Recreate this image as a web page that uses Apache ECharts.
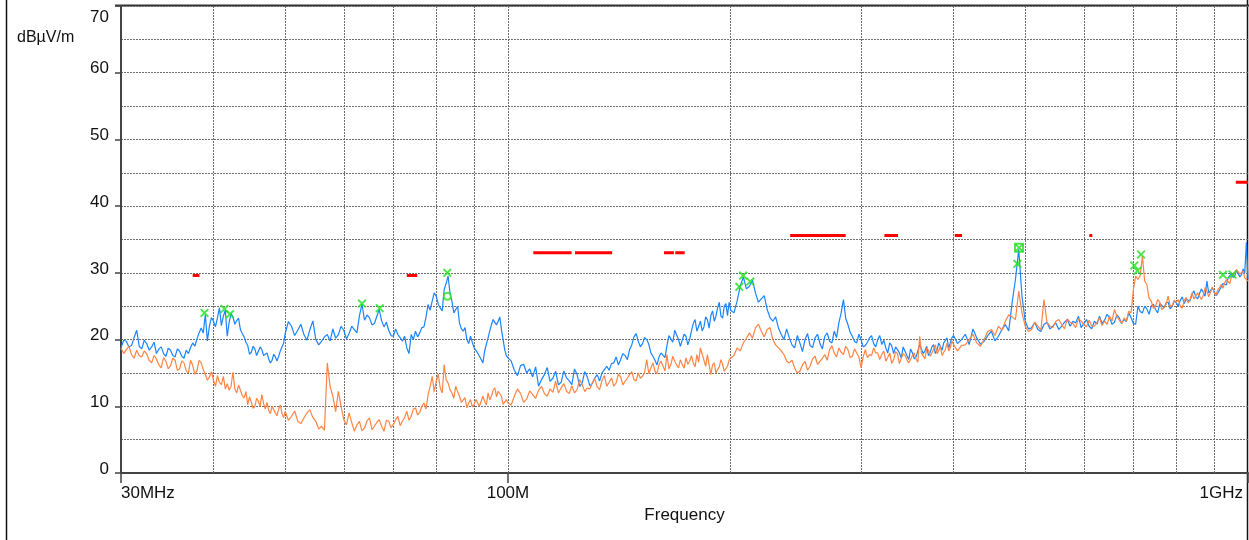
<!DOCTYPE html>
<html>
<head>
<meta charset="utf-8">
<title>Radiated emission scan</title>
<script src="https://cdn.jsdelivr.net/npm/echarts@6/dist/echarts.min.js"></script>
<style>
  html, body { margin: 0; padding: 0; background: #fff; }
  #main { width: 1249px; height: 540px; }
</style>
</head>
<body>
<div id="main"></div>
<script>
// sweep frequencies in MHz, shared by both traces
var freqs = [
  30,30.5,31,31.5,32,32.5,33,33.5,34,34.5,35,35.5,36,36.5,37,37.5,38,38.5,39,39.5,
  40,40.5,41,41.5,42,42.5,43,43.5,44,44.5,45,45.5,46,46.5,47,47.5,48,48.5,49,49.5,50,
  51,52,53,54,55,56,57,58,59,60,61,62,63,64,65,66,67,68,69,70,
  71,72,73,74,75,76,77,78,79,80,81,82,83,84,85,86,87,88,89,90,
  91,92,93,94,95,96,97,98,99,100,
  102,104,106,108,110,112,114,116,118,120,122,124,126,128,130,132,134,136,138,140,
  142,144,146,148,150,152,154,156,158,160,162,164,166,168,170,172,174,176,178,180,
  182,184,186,188,190,192,194,196,198,200,
  204,208,212,216,220,224,228,232,236,240,244,248,252,256,260,264,268,272,276,280,
  284,288,292,296,300,304,308,312,316,320,324,328,332,336,340,344,348,352,356,360,
  364,368,372,376,380,384,388,392,396,400,
  410,420,430,440,450,460,470,480,490,500,510,520,530,540,550,560,570,580,590,600,
  610,620,630,640,650,660,670,680,690,700,710,720,730,740,750,760,770,780,790,800,
  810,820,830,840,850,860,870,880,890,900,910,920,930,940,950,960,970,980,990,1000
];

// blue trace, dBuV/m
var blueTrace = [
  18.75,19.75,19.1,21.4,18.6,19.4,18.9,17.9,18.9,17.5,18.4,17.4,18.25,17.2,17.9,19.5,20.1,21.75,23.75,22.0,
  22.75,23.25,22.1,24.4,22.6,23.4,22.85,21.5,20.4,19.1,18.1,18.6,17.75,18.5,17.5,17.1,16.9,17.4,17.5,18.9,20.9,
  22.0,21.4,20.75,21.5,20.0,19.75,20.75,21.6,20.75,21.4,20.9,21.5,23.6,22.9,23.25,22.4,24.5,21.9,21.4,20.5,
  20.75,19.75,18.75,20.75,21.25,21.0,21.9,25.25,25.75,26.5,24.75,27.5,29.5,25.75,24.25,22.5,21.25,20.0,20.5,18.75,
  18.0,17.0,18.25,20.25,22.25,23.25,22.75,21.5,18.5,17.25,
  15.4,16.1,15.0,14.4,13.0,14.75,13.75,15.25,13.6,14.25,13.25,14.75,13.5,14.4,13.4,14.75,15.0,16.0,16.4,17.4,
  17.0,17.6,18.5,20.4,19.75,19.4,20.0,18.0,16.9,17.4,17.75,19.1,20.1,21.4,20.0,19.25,20.5,20.0,22.4,21.25,
  22.75,21.9,23.0,23.6,22.75,24.75,23.5,25.0,23.6,24.4,
  25.75,29.4,28.0,27.0,26.1,24.5,22.75,21.75,20.0,20.25,18.75,19.5,20.0,19.1,20.25,19.4,20.5,19.75,21.25,22.5,
  26.0,22.25,20.5,19.5,20.0,19.1,20.25,19.4,20.0,19.25,18.75,19.5,17.9,18.5,17.25,18.25,17.0,18.0,17.4,19.25,
  17.9,19.0,18.1,19.25,18.4,19.0,19.5,20.25,19.5,20.6,
  20.0,19.25,20.25,19.75,21.25,20.5,22.25,25.5,33.5,22.75,21.75,21.5,22.25,21.6,22.5,22.0,23.0,22.75,23.5,22.4,
  22.0,22.75,23.5,22.9,23.25,22.6,23.25,23.0,24.0,22.4,25.0,24.0,24.6,25.0,24.5,25.4,24.75,25.6,25.0,25.5,
  25.9,25.4,26.25,26.75,26.4,26.9,27.1,28.75,26.75,27.25,26.9,27.9,28.6,29.25,30.0,29.6,30.25,29.75,30.0,29.0
];

// orange trace, dBuV/m
var orangeTrace = [
  18.75,18.5,17.75,18.4,17.4,17.85,16.5,17.1,15.75,16.75,16.1,16.9,15.6,16.5,15.0,16.1,15.35,16.5,14.75,14.4,
  13.9,14.6,13.25,12.6,12.4,15.1,12.0,12.4,11.25,10.25,10.6,10.0,10.75,11.75,9.6,9.4,10.0,9.0,9.6,8.9,9.25,
  8.5,7.75,8.25,9.5,7.75,7.0,16.5,11.5,12.25,8.0,9.0,6.25,7.75,6.75,8.25,7.0,8.0,6.25,7.75,7.25,
  8.5,7.75,9.25,8.5,9.75,9.1,10.5,11.75,14.5,13.75,12.75,16.25,13.5,12.0,13.0,11.5,10.5,9.75,11.0,10.25,
  11.25,10.25,10.75,12.0,11.5,12.75,12.25,11.5,10.25,10.5,
  11.5,11.9,11.1,11.75,12.4,11.9,12.6,13.75,12.75,12.25,13.1,12.5,13.25,12.75,13.5,12.9,13.9,13.0,14.25,13.5,
  14.4,13.75,14.75,14.0,15.0,14.5,17.0,15.75,15.25,16.25,16.0,17.75,16.25,16.75,15.75,16.25,17.25,16.75,16.5,17.75,
  18.75,16.9,17.75,14.75,16.5,15.5,17.0,15.25,16.0,17.25,
  18.75,19.5,21.0,21.75,21.25,21.5,20.0,18.75,17.75,16.5,15.75,15.25,16.75,16.0,17.5,16.75,17.75,18.5,18.0,18.75,
  17.75,18.5,17.5,18.0,15.75,18.5,17.75,18.75,18.0,17.75,16.75,18.0,17.0,17.9,16.6,17.6,16.5,17.6,17.1,20.5,
  17.75,18.75,17.5,18.5,17.9,19.0,18.1,19.5,18.75,19.25,
  19.1,20.0,19.5,20.0,21.5,22.0,22.75,23.4,27.25,22.0,21.5,22.0,26.0,22.0,22.75,22.25,23.1,22.4,23.1,22.25,
  22.9,22.0,23.25,22.75,23.5,24.5,22.9,23.25,24.25,27.5,29.0,32.5,28.25,25.75,25.0,25.6,24.75,26.5,25.1,25.6,
  25.0,25.9,25.5,27.0,26.25,27.25,26.6,27.25,26.5,27.0,27.4,28.25,28.5,29.0,29.5,30.0,30.6,29.6,29.25,28.75
];

// in-between sweep points (read between the ones above)
var freqsMid = [
  30.25,30.75,31.25,31.75,32.25,32.75,33.25,33.75,34.25,34.75,35.25,35.75,36.25,36.75,37.25,37.75,38.25,38.75,39.25,39.75,
  40.25,40.75,41.25,41.75,42.25,42.75,43.25,43.75,44.25,44.75,45.25,45.75,46.25,46.75,47.25,47.75,48.25,48.75,49.25,49.75,
  50.5,51.5,52.5,53.5,54.5,55.5,56.5,57.5,58.5,59.5,60.5,61.5,62.5,63.5,64.5,65.5,66.5,67.5,68.5,69.5,
  70.5,71.5,72.5,73.5,74.5,75.5,76.5,77.5,78.5,79.5,80.5,81.5,82.5,83.5,84.5,85.5,86.5,87.5,88.5,89.5,
  90.5,91.5,92.5,93.5,94.5,95.5,96.5,97.5,98.5,99.5,
  101,103,105,107,109,111,113,115,117,119,121,123,125,127,129,131,133,135,137,139,
  141,143,145,147,149,151,153,155,157,159,161,163,165,167,169,171,173,175,177,179,
  181,183,185,187,189,191,193,195,197,199,
  202,206,210,214,218,222,226,230,234,238,242,246,250,254,258,262,266,270,274,278,
  282,286,290,294,298,302,306,310,314,318,322,326,330,334,338,342,346,350,354,358,
  362,366,370,374,378,382,386,390,394,398,
  405,415,425,435,445,455,465,475,485,495,505,515,525,535,545,555,565,575,585,595,
  605,615,625,635,645,655,665,675,685,695,705,715,725,735,745,755,765,775,785,795,
  805,815,825,835,845,855,865,875,885,895,905,915,925,935,945,955,965,975,985,995
];

var blueMid = [
  19.9,18.9,20.3,19.0,19.9,18.4,19.6,18.6,17.9,18.7,17.6,18.6,17.5,18.4,18.8,19.0,21.0,21.0,19.8,23.3,
  21.9,24.8,23.5,20.5,23.9,22.3,23.2,20.9,19.6,17.8,19.0,17.6,18.9,17.6,18.0,16.5,17.8,16.8,18.3,19.4,
  22.7,20.6,22.3,19.9,22.8,19.2,20.4,19.8,20.2,22.0,20.1,22.0,21.0,25.3,23.7,22.2,23.5,22.8,22.6,20.6,
  21.6,20.3,20.5,17.9,20.0,20.4,21.8,23.4,24.4,27.0,25.3,24.3,28.4,27.0,24.0,25.0,21.6,21.8,19.4,19.6,
  18.6,17.5,16.5,19.3,21.3,23.0,22.2,23.4,20.0,17.6,
  16.8,14.6,16.3,15.6,15.9,14.0,15.8,14.2,13.2,15.3,13.8,15.6,13.0,15.2,13.1,14.2,13.8,15.5,15.4,16.5,
  16.2,17.9,17.0,19.2,20.9,18.9,20.3,19.3,17.5,16.2,18.0,17.3,20.6,19.6,21.3,19.0,20.8,19.2,21.3,23.0,
  22.0,21.3,23.4,21.7,24.3,23.5,25.6,23.2,25.4,25.6,
  24.0,28.0,27.6,28.9,25.6,26.6,23.3,23.4,20.8,21.6,19.2,20.6,18.2,20.9,18.8,20.8,18.6,21.0,19.5,20.3,
  24.0,23.2,21.1,19.7,20.8,18.9,19.6,20.6,18.9,20.6,19.9,18.0,19.1,18.9,18.0,18.9,17.6,18.6,17.1,18.3,
  18.6,18.3,17.6,18.9,17.9,19.5,18.4,19.4,18.7,20.3,
  19.4,20.8,21.6,19.3,20.6,19.8,21.5,21.3,29.0,26.5,21.6,22.6,21.2,22.6,22.0,21.5,22.6,22.0,22.5,21.8,
  23.0,21.6,22.3,22.4,23.8,22.3,23.7,22.4,22.7,23.3,22.3,24.2,25.0,23.8,25.3,24.0,25.1,25.5,24.6,25.8,
  25.0,26.4,26.0,25.8,27.3,26.1,27.6,26.5,27.0,27.7,26.6,27.4,28.4,28.2,29.6,29.3,30.4,29.4,30.6,34.6
];

var orangeMid = [
  17.9,19.0,17.2,17.6,18.3,16.9,17.6,16.2,17.3,15.6,17.2,15.4,16.8,15.3,16.9,14.8,16.9,15.5,13.9,15.2,
  13.0,13.6,14.5,13.4,13.0,12.6,13.2,11.6,12.2,11.4,9.7,11.2,10.0,10.4,10.6,8.9,9.9,8.6,10.2,8.3,
  7.9,9.3,7.4,9.0,8.3,6.6,6.4,13.0,9.2,10.0,7.2,7.6,7.2,6.3,7.8,6.5,7.6,7.0,7.9,6.8,
  8.0,7.1,8.3,7.9,9.6,8.7,10.0,9.6,13.0,12.2,14.8,12.0,14.0,12.5,11.2,12.2,10.6,11.3,10.5,9.9,
  11.0,10.0,11.5,10.2,11.0,12.4,11.4,12.0,10.3,11.0,
  10.2,12.6,10.6,12.3,11.2,13.0,11.5,12.1,12.0,13.4,11.9,12.0,14.0,12.2,12.6,14.1,12.5,14.6,13.6,13.0,
  14.8,13.2,14.2,15.2,13.8,14.2,15.1,14.9,16.5,14.9,16.8,15.3,15.6,17.5,16.6,17.0,15.7,16.3,17.6,15.9,
  16.6,17.8,16.0,16.2,16.2,15.0,15.9,16.3,15.2,16.9,
  17.6,18.3,20.2,20.2,22.3,20.4,21.8,19.2,18.3,16.8,16.9,15.0,16.2,15.4,17.1,16.3,17.2,16.9,19.1,17.4,
  18.1,19.0,17.3,18.6,17.4,17.4,17.3,17.6,18.0,17.0,18.3,17.3,16.4,18.2,16.4,17.9,17.0,16.4,18.0,16.6,
  18.0,17.1,18.4,17.4,19.2,18.3,17.6,18.5,18.3,19.8,
  18.3,19.2,20.8,19.0,21.2,20.6,21.4,23.7,23.0,24.0,21.2,22.6,21.4,22.6,21.8,23.0,21.6,22.6,21.8,22.8,
  21.9,22.0,22.6,22.1,22.3,22.8,23.5,22.4,22.8,24.0,29.5,29.6,28.8,26.2,24.7,26.0,24.5,25.3,25.0,25.9,
  26.0,24.7,26.3,26.0,26.1,27.0,26.0,27.8,26.4,27.9,26.7,27.8,27.7,29.0,28.4,29.6,30.5,29.8,30.3,29.1
];

// limit line pieces: [start MHz, end MHz, level]
var limitSegments = [
  [37.5, 38.3, 29.6], [73.0, 75.4, 29.6],
  [108.2, 121.9, 33.0], [123.2, 138.3, 33.0], [150.5, 150.8, 33.0], [157.1, 157.4, 33.0],
  [162.5, 167.6, 33.0], [168.3, 173.3, 33.0],
  [240.6, 286, 35.6], [322.6, 336.6, 35.6], [401.6, 410.8, 35.6], [610.4, 616, 35.6],
  [962.7, 1000, 43.6]
];

// peak markers
var peakFreqs  = [38.9, 41.4, 42.1, 63.5, 67.1, 82.8, 205.4, 207.9, 212.5, 488, 490.5, 702, 709, 717, 925, 953];
var peakLevels = [24.0, 24.6, 23.8, 25.4, 24.7, 30.0, 27.9, 29.6, 28.7, 31.35, 33.75, 31.1, 30.3, 32.75, 29.7, 29.75];
var circleMarks = [[82.8, 26.5]];
var squareMarks = [[490.5, 33.75]];

var gridFreqs = [40, 50, 60, 70, 80, 90, 100, 200, 300, 400, 500, 600, 700, 800, 900];
var xTickLabels = { 30: '30MHz', 100: '100M', 1000: '{r|1GHz}' };

function pairs(xs, ys) {
  return xs.map(function (x, i) { return [x, ys[i]]; });
}
function byFreq(a, b) { return a[0] - b[0]; }

var blueData = pairs(freqs, blueTrace).concat(pairs(freqsMid, blueMid)).sort(byFreq);
var orangeData = pairs(freqs, orangeTrace).concat(pairs(freqsMid, orangeMid)).sort(byFreq);

var limitData = [];
limitSegments.forEach(function (s) {
  limitData.push([s[0], s[2]], [s[1], s[2]], [s[1], '-']);
});

var fontName = 'Liberation Sans, Arial, sans-serif';
var axisDark = '#444';
var gridStyle = { color: '#6e6e6e', width: 1, type: [2, 1] };
var crossPath = 'path://M0,1.5L1.5,0L5,3.5L8.5,0L10,1.5L6.5,5L10,8.5L8.5,10L5,6.5L1.5,10L0,8.5L3.5,5Z';
var markGreen = '#1ee01e';

var myChart = echarts.init(document.getElementById('main'));

var option = {
  backgroundColor: '#fff',
  animation: false,
  textStyle: { fontFamily: fontName },
  grid: { left: 121, right: 1, top: 6, bottom: 67, outerBoundsMode: 'none' },
  xAxis: {
    type: 'log',
    logBase: 10,
    min: 30,
    max: 1000,
    name: 'Frequency',
    nameLocation: 'middle',
    nameGap: 31,
    nameTextStyle: { fontSize: 17, color: '#111', fontFamily: fontName },
    axisLine: { show: true, lineStyle: { color: axisDark, width: 2 } },
    axisTick: { show: true, length: 10, lineStyle: { color: axisDark, width: 1.5 } },
    splitLine: { show: false },
    axisLabel: {
      fontSize: 17,
      color: '#111',
      margin: 12,
      fontFamily: fontName,
      showMinLabel: true,
      showMaxLabel: true,
      alignMinLabel: 'left',
      alignMaxLabel: 'right',
      formatter: function (v) { return xTickLabels[Math.round(v)] || ''; },
      rich: { r: { fontSize: 17, color: '#111', padding: [0, 5, 0, 0], fontFamily: fontName } }
    }
  },
  yAxis: {
    type: 'value',
    min: 0,
    max: 70,
    interval: 10,
    axisLine: { show: true, lineStyle: { color: axisDark, width: 2 } },
    axisTick: { show: true, length: 6, lineStyle: { color: axisDark, width: 1.5 } },
    minorTick: { show: false, splitNumber: 2 },
    splitLine: { show: true, lineStyle: gridStyle },
    minorSplitLine: { show: true, lineStyle: gridStyle },
    axisLabel: {
      fontSize: 17,
      color: '#111',
      margin: 12,
      fontFamily: fontName,
      verticalAlign: 'bottom',
      lineHeight: 8,
      formatter: function (v) { return v === 70 ? '' : String(v); }
    }
  },
  graphic: [
    { type: 'line', shape: { x1: 6.5, y1: 0, x2: 6.5, y2: 540 }, style: { stroke: '#111', lineWidth: 1.5 } },
    { type: 'line', shape: { x1: 1247.5, y1: 0, x2: 1247.5, y2: 540 }, style: { stroke: '#111', lineWidth: 1.5 } },
    { type: 'line', shape: { x1: 115, y1: 5.5, x2: 1249, y2: 5.5 }, style: { stroke: '#333', lineWidth: 2 } },
    { type: 'text', x: 109, y: 17, style: { text: '70', fill: '#111', font: '17px ' + fontName, align: 'right', verticalAlign: 'middle' } },
    { type: 'text', x: 17, y: 38, style: { text: 'dBµV/m', fill: '#111', font: '16px ' + fontName, align: 'left', verticalAlign: 'middle' } }
  ],
  series: [
    {
      name: 'grid',
      type: 'line',
      data: [],
      z: 1,
      silent: true,
      markLine: {
        z: 1,
        silent: true,
        symbol: ['none', 'none'],
        label: { show: false },
        lineStyle: gridStyle,
        data: gridFreqs.map(function (f) { return { xAxis: f }; })
      }
    },
    {
      name: 'blue',
      type: 'line',
      data: blueData,
      showSymbol: false,
      symbol: 'none',
      z: 3,
      lineStyle: { color: '#1a84ff', width: 1.2 }
    },
    {
      name: 'orange',
      type: 'line',
      data: orangeData,
      showSymbol: false,
      symbol: 'none',
      z: 4,
      lineStyle: { color: '#ff8443', width: 1.2 }
    },
    {
      name: 'limit',
      type: 'line',
      data: limitData,
      showSymbol: false,
      symbol: 'none',
      connectNulls: false,
      z: 5,
      lineStyle: { color: '#ff0000', width: 3, cap: 'butt' }
    },
    {
      name: 'peaks',
      type: 'scatter',
      data: pairs(peakFreqs, peakLevels),
      symbol: crossPath,
      symbolSize: 9,
      z: 6,
      itemStyle: { color: markGreen }
    },
    {
      name: 'peaksCircle',
      type: 'scatter',
      data: circleMarks,
      symbol: 'circle',
      symbolSize: 7,
      z: 6,
      itemStyle: { color: '#fff', borderColor: markGreen, borderWidth: 2 }
    },
    {
      name: 'peaksSquare',
      type: 'scatter',
      data: squareMarks,
      symbol: 'rect',
      symbolSize: 8,
      z: 6,
      itemStyle: { color: 'rgba(0,0,0,0)', borderColor: markGreen, borderWidth: 2 }
    }
  ]
};

myChart.setOption(option);
</script>
</body>
</html>
